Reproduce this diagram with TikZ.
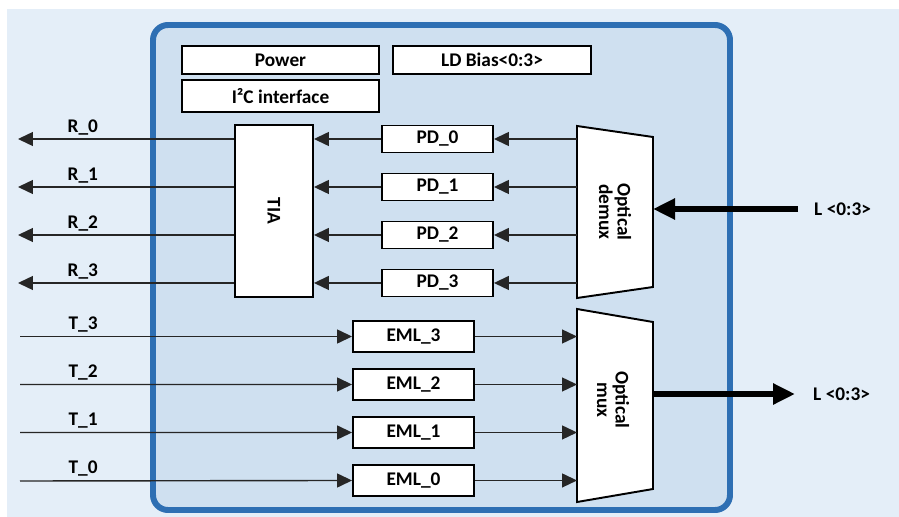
\documentclass[tikz,border=0pt]{standalone}
\usepackage{fontspec}
\setmainfont{Carlito}
\usetikzlibrary{positioning, arrows.meta}
\definecolor{bgblue}{HTML}{E4EEF8}
\definecolor{boxblue}{HTML}{CFE0F0}
\definecolor{rimblue}{HTML}{2E6FB3}

\begin{document}
\begin{tikzpicture}[x=0.02cm, y=-0.02cm, >={Triangle[length=0.3cm,width=0.28cm]},
        node distance=0.96cm, font=\fontsize{11}{10.5}\selectfont\bfseries,
        block/.style={draw, fill=white, line width=1.1pt, minimum width=2.22cm, minimum height=0.54cm, inner sep=1pt},
        wire/.style={->, line width=0.8pt, draw=black!85},
        fat/.style={-{Triangle[length=0.44cm,width=0.4cm]}, line width=3.4pt},
        lbl/.style={above, inner sep=2pt}]

    \useasboundingbox (0,0) rectangle (899,517);
    \fill[bgblue] (7,9) rectangle (899,517);
    \draw[rimblue, fill=boxblue, line width=3.4pt, rounded corners=0.3cm] (153,25) rectangle (730,510);

    % control blocks
    \node[block, minimum width=3.94cm, minimum height=0.56cm] (pwr) at (280.5,60) {Power};
    \node[block, minimum width=3.96cm, minimum height=0.56cm] (ldb) at (492,60) {LD Bias<0:3>};
    \node[block, minimum width=3.94cm, minimum height=0.64cm] (i2c) at (280.5,96) {I²C interface};

    % receive side
    \node[block, minimum width=1.56cm, minimum height=3.44cm, label={[rotate=-90]center:TIA}] (tia) at (274,211) {};
    \node[block] (pd0) at (437.5,139) {PD\_0};
    \node[block] (pd1) [below of=pd0] {PD\_1};
    \node[block] (pd2) [below of=pd1] {PD\_2};
    \node[block] (pd3) [below of=pd2] {PD\_3};

    \draw[fill=white, line width=1.1pt] (577,126) coordinate (dmxw) -- (653,137) -- (653,287) coordinate (dmxe) -- (577,298) -- cycle;
    \node[rotate=-90, align=center] (dmx) at (615,212) {Optical\\demux};

    % transmit side
    \node[block, minimum width=2.42cm, minimum height=0.62cm] (eml3) at (413.5,336.5) {EML\_3};
    \node[block, minimum width=2.42cm, minimum height=0.62cm] (eml2) [below of=eml3] {EML\_2};
    \node[block, minimum width=2.42cm, minimum height=0.62cm] (eml1) [below of=eml2] {EML\_1};
    \node[block, minimum width=2.42cm, minimum height=0.62cm] (eml0) [below of=eml1] {EML\_0};

    \draw[fill=white, line width=1.1pt] (577,309) coordinate (mxw) -- (653,322) -- (653,489) coordinate (mxe) -- (577,502) -- cycle;
    \node[rotate=-90, align=center] (mx) at (613,400) {Optical\\mux};

    % outside ends
    \coordinate (r0) at (18,139);
    \coordinate (r1) at (18,187);
    \coordinate (r2) at (18,235);
    \coordinate (r3) at (18,283);
    \coordinate (t3) at (20,336.5);
    \coordinate (t2) at (20,384.5);
    \coordinate (t1) at (20,432.5);
    \coordinate (t0) at (20,481);
    \node[anchor=west] (lin) at (808,209) {L <0:3>};
    \node[anchor=west] (lout) at (807,394) {L <0:3>};

    \path[every edge/.style={draw, wire}]
        (dmxw |- pd0) edge (pd0.east)
        (dmxw |- pd1) edge (pd1.east)
        (dmxw |- pd2) edge (pd2.east)
        (dmxw |- pd3) edge (pd3.east)
        (pd0.west) edge (tia.east |- pd0)
        (pd1.west) edge (tia.east |- pd1)
        (pd2.west) edge (tia.east |- pd2)
        (pd3.west) edge (tia.east |- pd3)
        (tia.west |- r0) edge node[lbl, pos=0.7] {R\_0} (r0)
        (tia.west |- r1) edge node[lbl, pos=0.7] {R\_1} (r1)
        (tia.west |- r2) edge node[lbl, pos=0.7] {R\_2} (r2)
        (tia.west |- r3) edge node[lbl, pos=0.7] {R\_3} (r3)
        (t3) edge node[lbl, pos=0.19] {T\_3} (eml3.west)
        (t2) edge node[lbl, pos=0.19] {T\_2} (eml2.west)
        (t1) edge node[lbl, pos=0.19] {T\_1} (eml1.west)
        (t0) edge node[lbl, pos=0.19] {T\_0} (eml0.west)
        (eml3.east) edge (eml3.east -| mxw)
        (eml2.east) edge (eml2.east -| mxw)
        (eml1.east) edge (eml1.east -| mxw)
        (eml0.east) edge (eml0.east -| mxw);

    \draw[fat, shorten <=0.2cm] (lin.west) -- (lin -| dmxe);
    \draw[fat, shorten >=0.24cm] (mxe |- lout) -- (lout.west);
\end{tikzpicture}
\end{document}
